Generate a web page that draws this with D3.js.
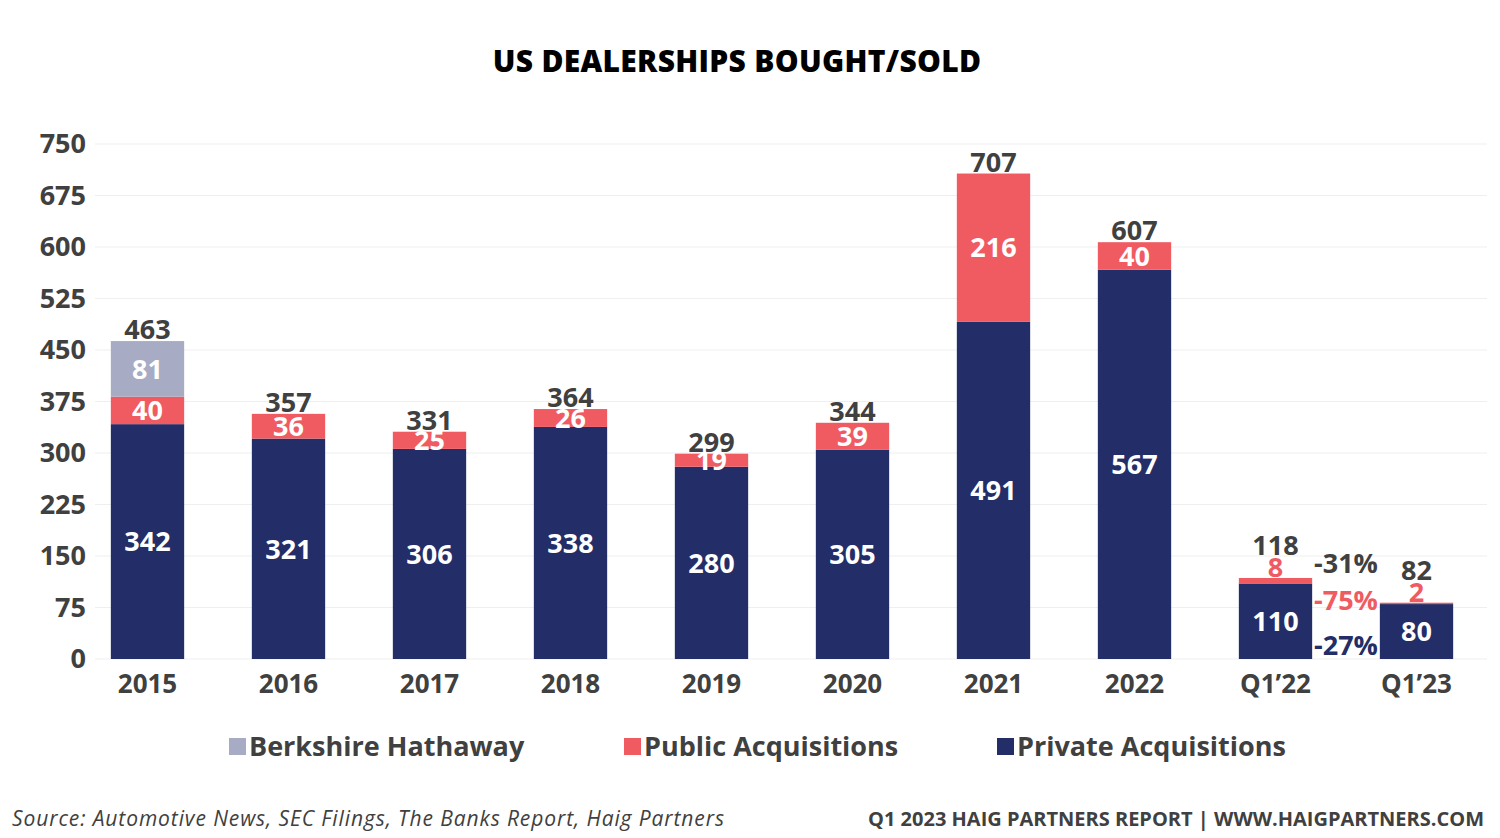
<!DOCTYPE html>
<html>
<head>
<meta charset="utf-8">
<script src="https://cdn.jsdelivr.net/npm/d3@7/dist/d3.min.js"></script>
<style>
  html, body { margin: 0; padding: 0; background: #ffffff; }
  svg { display: block; font-family: "Open Sans", "Noto Sans", sans-serif; }
</style>
</head>
<body>
<svg id="chart" width="1500" height="838"></svg>
<script>
const categories = ["2015", "2016", "2017", "2018", "2019", "2020", "2021", "2022", "Q1\u201922", "Q1\u201923"];
const privateAcq = [342, 321, 306, 338, 280, 305, 491, 567, 110, 80];
const publicAcq = [40, 36, 25, 26, 19, 39, 216, 40, 8, 2];
const berkshire = [81, 0, 0, 0, 0, 0, 0, 0, 0, 0];
const totals = [463, 357, 331, 364, 299, 344, 707, 607, 118, 82];
const yTicks = [0, 75, 150, 225, 300, 375, 450, 525, 600, 675, 750];
const seriesNames = ["Private Acquisitions", "Public Acquisitions", "Berkshire Hathaway"];
const legendOrder = ["Berkshire Hathaway", "Public Acquisitions", "Private Acquisitions"];
const changeLabels = ["-31%", "-75%", "-27%"];
const changeAnchors = [140, 85, 20];

const colors = {
  "Private Acquisitions": "#232d68",
  "Public Acquisitions": "#f05a61",
  "Berkshire Hathaway": "#a7abc4"
};
const textDark = "#404040";

const svg = d3.select("#chart");

const x = d3.scaleBand().domain(categories).range([77, 1487]).paddingInner(0.48).paddingOuter(0.24);
const y = d3.scaleLinear().domain([0, 750]).range([659, 144]);

// title
svg.append("text").attr("x", 737).attr("y", 72).attr("text-anchor", "middle")
  .attr("font-size", 30).attr("font-weight", 800).attr("fill", "#000")
  .attr("letter-spacing", 0.3)
  .text("US DEALERSHIPS BOUGHT/SOLD");

// gridlines
svg.append("g").selectAll("line").data(yTicks).join("line")
  .attr("x1", 95).attr("x2", 1487)
  .attr("y1", d => y(d)).attr("y2", d => y(d))
  .attr("stroke", "#efefef").attr("stroke-width", 1.2);

// y axis
const yAxis = d3.axisLeft(y).tickValues(yTicks).tickSize(0).tickPadding(0);
const gy = svg.append("g").attr("transform", "translate(86,0)").call(yAxis);
gy.select(".domain").remove();
gy.selectAll("text").attr("font-size", 27).attr("font-weight", 700).attr("fill", textDark)
  .attr("font-family", "'Open Sans', sans-serif");

// x axis
const xAxis = d3.axisBottom(x).tickSize(0).tickPadding(0);
const gx = svg.append("g").attr("transform", "translate(0,675)").call(xAxis);
gx.select(".domain").remove();
gx.selectAll("text").attr("font-size", 26).attr("font-weight", 700).attr("fill", textDark)
  .attr("dy", "0.71em").attr("font-family", "'Open Sans', sans-serif");

// stacked data
const rows = categories.map((c, i) => ({
  cat: c,
  "Private Acquisitions": privateAcq[i],
  "Public Acquisitions": publicAcq[i],
  "Berkshire Hathaway": berkshire[i]
}));
const stack = d3.stack().keys(seriesNames)(rows);

const gBars = svg.append("g");
stack.forEach(s => {
  gBars.append("g").attr("fill", colors[s.key]).selectAll("rect").data(s).join("rect")
    .attr("x", d => x(d.data.cat))
    .attr("width", x.bandwidth())
    .attr("y", d => y(d[1]))
    .attr("height", d => Math.max(0, y(d[0]) - y(d[1])));
});

// segment labels
const gLab = svg.append("g").attr("font-weight", 700).attr("text-anchor", "middle")
  .attr("font-family", "'Open Sans', sans-serif");
stack.forEach(s => {
  s.forEach(d => {
    const v = d[1] - d[0];
    if (v <= 0) return;
    const cx = x(d.data.cat) + x.bandwidth() / 2;
    const small = v < 12;
    if (small) {
      gLab.append("text").attr("x", cx).attr("y", y(d[1]) - 1)
        .attr("font-size", 27).attr("fill", colors[s.key]).text(v);
    } else {
      gLab.append("text").attr("x", cx).attr("y", (y(d[0]) + y(d[1])) / 2)
        .attr("dy", "0.36em").attr("font-size", 27).attr("fill", "#ffffff").text(v);
    }
  });
});

// totals
categories.forEach((c, i) => {
  const cx = x(c) + x.bandwidth() / 2;
  const small = publicAcq[i] < 12 && publicAcq[i] > 0;
  gLab.append("text").attr("x", cx).attr("y", y(totals[i]) - (small ? 23 : 2))
    .attr("font-size", 27).attr("fill", textDark).text(totals[i]);
});

// change annotations between Q1'22 and Q1'23
const midX = (x(categories[8]) + x.bandwidth() + x(categories[9])) / 2;
const changeColors = [textDark, colors["Public Acquisitions"], colors["Private Acquisitions"]];
changeLabels.forEach((t, i) => {
  gLab.append("text").attr("x", midX).attr("y", y(changeAnchors[i])).attr("dy", "0.36em")
    .attr("font-size", 27).attr("fill", changeColors[i]).text(t);
});

// legend
const legendX = [229, 624, 997];
const gLeg = svg.append("g");
legendOrder.forEach((name, i) => {
  gLeg.append("rect").attr("x", legendX[i]).attr("y", 738).attr("width", 17).attr("height", 17)
    .attr("fill", colors[name]);
  gLeg.append("text").attr("x", legendX[i] + 20).attr("y", 746).attr("dy", "0.36em")
    .attr("font-size", 27).attr("font-weight", 700).attr("fill", textDark).text(name);
});

// footer
svg.append("text").attr("x", 12).attr("y", 826).attr("font-size", 21).attr("font-style", "italic")
  .attr("letter-spacing", 0.9)
  .attr("fill", textDark).text("Source: Automotive News, SEC Filings, The Banks Report, Haig Partners");
svg.append("text").attr("x", 1484).attr("y", 826).attr("text-anchor", "end").attr("font-size", 20)
  .attr("font-weight", 700).attr("fill", textDark).text("Q1 2023 HAIG PARTNERS REPORT | WWW.HAIGPARTNERS.COM");
</script>
</body>
</html>
